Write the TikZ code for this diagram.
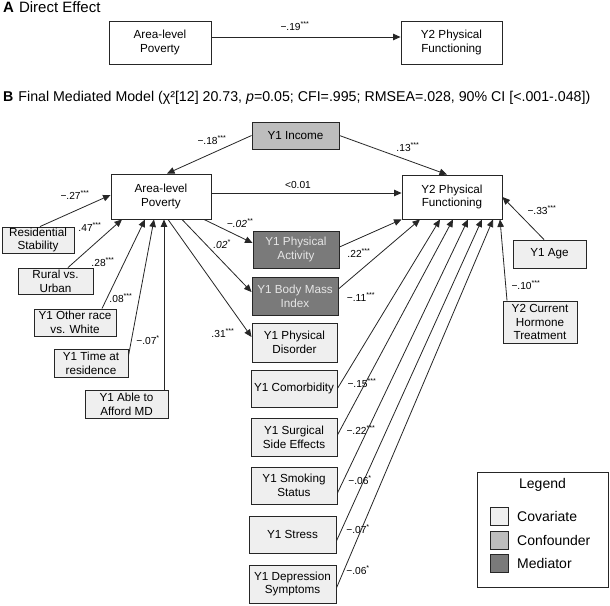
\documentclass[tikz,border=0pt]{standalone}
\usepackage{fontspec}
\setmainfont{Liberation Sans}
\usetikzlibrary{arrows.meta,calc}
\definecolor{covfill}{HTML}{EFEFEF}
\definecolor{confill}{HTML}{BDBDBD}
\definecolor{medfill}{HTML}{7A7A7A}
\definecolor{medtext}{HTML}{E6E6E6}
\definecolor{edgecol}{HTML}{262626}
\tikzset{
  box/.style={draw=edgecol, line width=0.9pt, inner sep=0pt, align=center,
    font=\fontsize{11.7}{13.8}\selectfont},
  plainbox/.style={box, fill=white},
  cov/.style={box, fill=covfill},
  conf/.style={box, fill=confill},
  med/.style={box, fill=medfill, text=medtext},
  path/.style={draw=edgecol, line width=0.8pt, -{Triangle[length=7.5pt,width=6.5pt]}},
  coef/.style={font=\fontsize{10.2}{11}\selectfont, inner sep=0pt},
  swatch/.style={draw=edgecol, line width=0.9pt, minimum width=18pt, minimum height=18pt, inner sep=0pt},
  legtext/.style={font=\fontsize{14}{16}\selectfont, anchor=west, inner sep=0pt},
}
\newcommand{\st}[1]{\textsuperscript{#1}}
\begin{document}
\begin{tikzpicture}[x=1pt,y=-1pt]
\useasboundingbox[fill=white] (0,0) rectangle (610,605);

% Panel A
\node[anchor=base west, inner sep=0pt, font=\fontsize{15}{17}\selectfont] (titA) at (3,12.5) {\textbf{A}\hspace{5pt}Direct Effect};
\node[plainbox, minimum width=102pt, minimum height=43pt] (apov) at (160,42.5) {Area-level\\Poverty};
\node[plainbox, minimum width=101pt, minimum height=43pt] (ay2) at (451.5,42.5) {Y2 Physical\\Functioning};
\draw[path] ([yshift=5.5pt]apov.east) -- ([yshift=5.5pt]ay2.west);
\node[coef] (lA) at (295,26) {−.19\st{***}};

% Panel B title
\node[anchor=base west, inner sep=0pt, font=\fontsize{14.2}{16}\selectfont] (titB) at (3,101) {\textbf{B}\hspace{5pt}Final Mediated Model (χ²[12] 20.73, \textit{p}=0.05; CFI=.995; RMSEA=.028, 90\% CI [<.001-.048])};

% Nodes
\node[conf, minimum width=87pt, minimum height=27pt] (inc) at (295.5,135.5) {Y1 Income};
\node[plainbox, minimum width=100pt, minimum height=45pt] (pov) at (161,196.5) {Area-level\\Poverty};
\node[plainbox, minimum width=100pt, minimum height=44pt] (y2) at (452,197) {Y2 Physical\\Functioning};

\node[cov, minimum width=72pt, minimum height=26pt] (res) at (38,240) {Residential\\Stability};
\node[cov, minimum width=75pt, minimum height=26pt] (rur) at (55.5,281) {Rural vs.\\Urban};
\node[cov, minimum width=82pt, minimum height=27pt] (oth) at (75,322.5) {Y1 Other race\\vs. White};
\node[cov, minimum width=74pt, minimum height=28pt] (tim) at (91,363) {Y1 Time at\\residence};
\node[cov, minimum width=83pt, minimum height=28pt] (aff) at (126.5,404) {Y1 Able to\\Afford MD};

\node[med, minimum width=86pt, minimum height=37pt] (pa) at (296,249.5) {Y1 Physical\\Activity};
\node[med, minimum width=86pt, minimum height=38pt] (bmi) at (295,296) {Y1 Body Mass\\Index};
\node[cov, minimum width=85pt, minimum height=39pt] (dis) at (294.5,342.5) {Y1 Physical\\Disorder};
\node[cov, minimum width=86pt, minimum height=37pt] (com) at (294,388.5) {Y1 Comorbidity};
\node[cov, minimum width=86pt, minimum height=38pt] (sur) at (294,437) {Y1 Surgical\\Side Effects};
\node[cov, minimum width=86pt, minimum height=37pt] (smo) at (294,485.5) {Y1 Smoking\\Status};
\node[cov, minimum width=87pt, minimum height=37pt] (str) at (292.5,534.5) {Y1 Stress};
\node[cov, minimum width=87pt, minimum height=38pt] (dep) at (292.5,584) {Y1 Depression\\Symptoms};

\node[cov, minimum width=73pt, minimum height=28pt] (age) at (549.5,254) {Y1 Age};
\node[cov, minimum width=74pt, minimum height=42pt] (hor) at (540,322) {Y2 Current\\Hormone\\Treatment};

% Edges
\draw[path] (inc.west) -- ([xshift=6pt]pov.north);
\draw[path] (inc.east) -- ([xshift=-5pt]y2.north);
\draw[path] ([yshift=3.5pt]pov.east) -- ([yshift=4pt]y2.west);

\draw[path] ([xshift=2pt]res.north) -- ([yshift=1.5pt]pov.west);
\draw[path] ([xshift=12.5pt]rur.north) -- ([xshift=-39pt]pov.south);
\draw[path] ([xshift=27pt]oth.north) -- ([xshift=-16pt]pov.south);
\draw[path] ([yshift=7pt]tim.east) -- ([xshift=-7pt]pov.south);
\draw[path] ([xshift=37.5pt]aff.north) -- ([xshift=3pt]pov.south);

\draw[path] ([xshift=43pt]pov.south) -- ([yshift=6.5pt]pa.west);
\draw[path] ([xshift=21pt]pov.south) -- ([yshift=4pt]bmi.west);
\draw[path] ([xshift=7pt]pov.south) -- ([yshift=5.5pt]dis.west);

\draw[path] ([yshift=2.5pt]pa.east) -- (y2.south west);
\draw[path] ([yshift=7pt]bmi.east) -- ([xshift=-32pt]y2.south);
\draw[path] (com.east) -- ([xshift=-12pt]y2.south);
\draw[path] ([yshift=2pt]sur.east) -- ([xshift=1pt]y2.south);
\draw[path] ([yshift=-7.5pt]smo.east) -- ([xshift=16pt]y2.south);
\draw[path] ([yshift=-6.5pt]str.east) -- ([xshift=30pt]y2.south);
\draw[path] ([yshift=-4pt]dep.east) -- ([xshift=41pt]y2.south);
\draw[path] ([xshift=-33pt]hor.north) -- ([xshift=48pt]y2.south);
\draw[path] ([xshift=-5.5pt]age.north) -- (y2.east);

% Coefficients
\node[coef] (c1) at (212,140) {−.18\st{***}};
\node[coef] (c2) at (408,147) {.13\st{***}};
\node[coef] (c3) at (298,185) {<0.01};
\node[coef] (c4) at (75,195) {−.27\st{***}};
\node[coef] (c5) at (90,227) {.47\st{***}};
\node[coef] (c6) at (103,262) {.28\st{***}};
\node[coef] (c7) at (121,298) {.08\st{***}};
\node[coef] (c8) at (148,340) {−.07\st{*}};
\node[coef] (c9) at (240,223) {\textit{−.02\st{**}}};
\node[coef] (c10) at (222,244) {\textit{.02\st{*}}};
\node[coef] (c11) at (223,333) {.31\st{***}};
\node[coef] (c12) at (359,253) {.22\st{***}};
\node[coef] (c13) at (361,297) {−.11\st{***}};
\node[coef] (c14) at (542,210) {−.33\st{***}};
\node[coef] (c15) at (526,285) {−.10\st{***}};
\node[coef] (c16) at (362,383) {−.15\st{***}};
\node[coef] (c17) at (361,430) {−.22\st{***}};
\node[coef] (c18) at (360,480) {−.06\st{*}};
\node[coef] (c19) at (358,529) {−.07\st{*}};
\node[coef] (c20) at (358,570) {−.06\st{*}};

% Legend
\node[draw=edgecol, line width=0.9pt, fill=white, minimum width=131pt, minimum height=115pt, inner sep=0pt] (leg) at (542.5,529.5) {};
\node[font=\fontsize{14}{16}\selectfont, inner sep=0pt] (legt) at (542.5,485) {Legend};
\node[swatch, fill=covfill] (s1) at (499,516.5) {};
\node[swatch, fill=confill] (s2) at (499,540) {};
\node[swatch, fill=medfill] (s3) at (499,563) {};
\node[legtext] (t1) at (517,516.5) {Covariate};
\node[legtext] (t2) at (517,540) {Confounder};
\node[legtext] (t3) at (517,563) {Mediator};
\end{tikzpicture}
\end{document}
